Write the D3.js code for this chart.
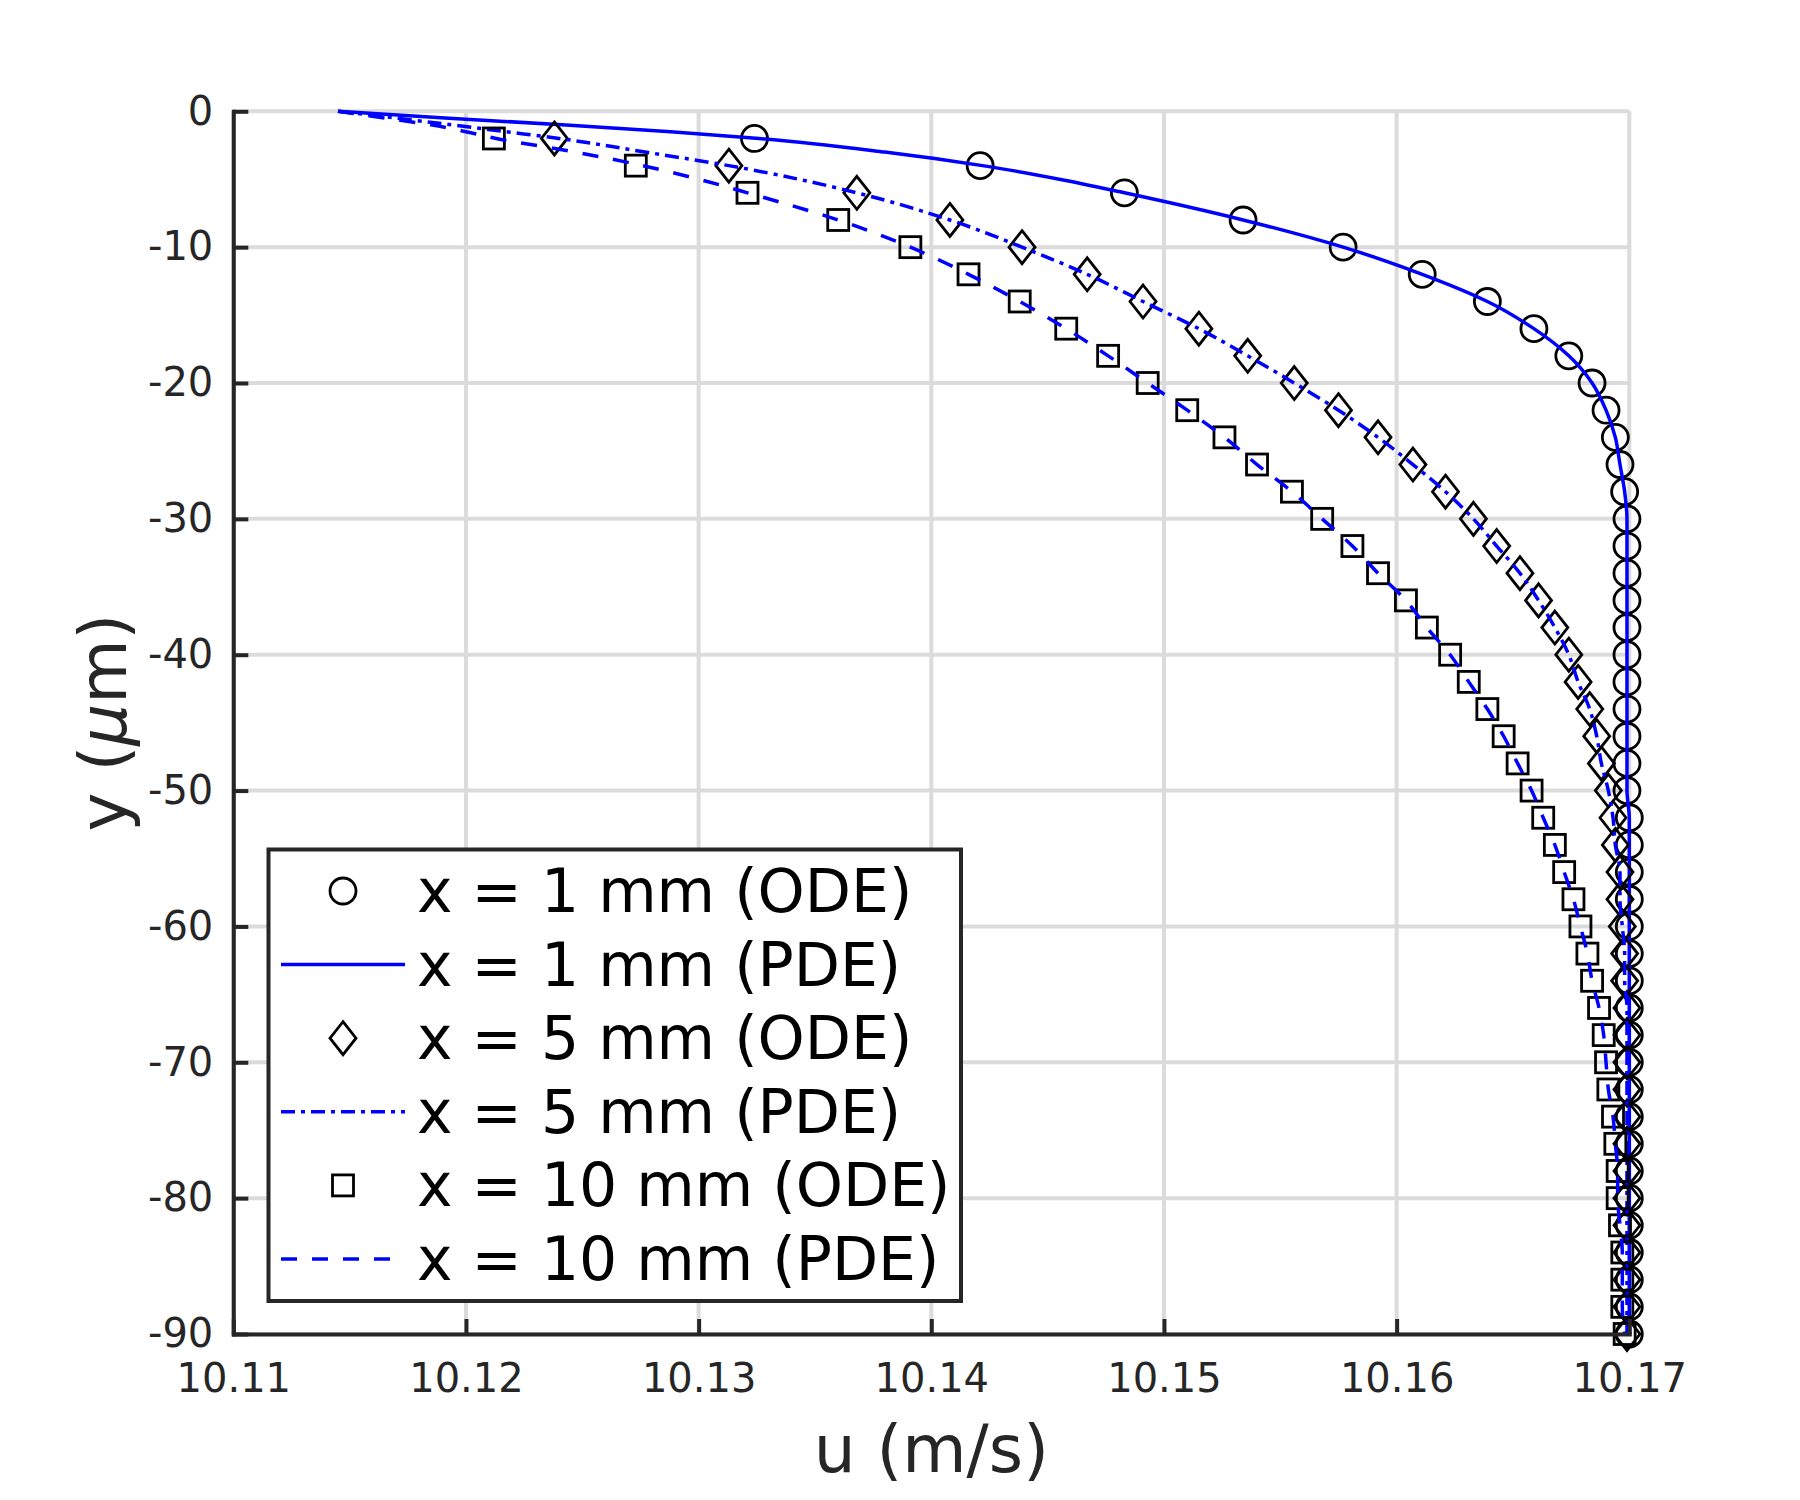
<!DOCTYPE html>
<html>
<head>
<meta charset="utf-8">
<script src="https://cdn.jsdelivr.net/npm/d3@7"></script>
<style>
  body { margin: 0; background: #fff; }
  svg text { font-family: "DejaVu Sans", sans-serif; }
</style>
</head>
<body>
<div id="chart"></div>
<script>
// depth grid of the ODE solution (um)
var yOde = [-2, -4, -6, -8, -10, -12, -14, -16, -18, -20, -22, -24, -26, -28, -30,
  -32, -34, -36, -38, -40, -42, -44, -46, -48, -50, -52, -54, -56, -58, -60,
  -62, -64, -66, -68, -70, -72, -74, -76, -78, -80, -82, -84, -86, -88, -90];

// u (m/s) at x = 1, 5, 10 mm, ODE markers
var u1Ode = [10.1324, 10.1421, 10.1483, 10.1534, 10.1577, 10.1611, 10.1639, 10.1659, 10.1674, 10.1684,
  10.1690, 10.1694, 10.1696, 10.1698, 10.1699, 10.1699, 10.1699, 10.1699, 10.1699, 10.1699,
  10.1699, 10.1699, 10.1699, 10.1699, 10.1699, 10.1700, 10.1700, 10.1700, 10.1700, 10.1700,
  10.1700, 10.1700, 10.1700, 10.1700, 10.1700, 10.1700, 10.1700, 10.1700, 10.1700, 10.1700,
  10.1700, 10.1700, 10.1700, 10.1700, 10.1700];
var u5Ode = [10.1238, 10.1313, 10.1368, 10.1408, 10.1439, 10.1467, 10.1491, 10.1515, 10.1536, 10.1556,
  10.1575, 10.1592, 10.1607, 10.1621, 10.1633, 10.1643, 10.1653, 10.1661, 10.1668, 10.1674,
  10.1678, 10.1683, 10.1686, 10.1688, 10.1691, 10.1693, 10.1694, 10.1696, 10.1696, 10.1697,
  10.1698, 10.1698, 10.1699, 10.1699, 10.1699, 10.1699, 10.1699, 10.1699, 10.1699, 10.1699,
  10.1699, 10.1699, 10.1699, 10.1699, 10.1699];
var u10Ode = [10.1212, 10.1273, 10.1321, 10.1360, 10.1391, 10.1416, 10.1438, 10.1458, 10.1476, 10.1493,
  10.1510, 10.1526, 10.1540, 10.1555, 10.1568, 10.1581, 10.1592, 10.1604, 10.1613, 10.1623,
  10.1631, 10.1639, 10.1646, 10.1652, 10.1658, 10.1663, 10.1668, 10.1672, 10.1676, 10.1679,
  10.1682, 10.1684, 10.1687, 10.1689, 10.1690, 10.1691, 10.1693, 10.1694, 10.1695, 10.1695,
  10.1696, 10.1697, 10.1697, 10.1697, 10.1698];

// PDE curves, read on a finer grid near the surface
var yPde = [0, -0.5, -1, -1.5, -2, -3, -4, -5, -6, -8, -10, -12, -14, -16, -18, -20, -22, -24, -26, -28,
  -30, -32, -34, -36, -38, -40, -42, -44, -46, -48, -50, -52, -54, -56, -58, -60,
  -62, -64, -66, -68, -70, -72, -74, -76, -78, -80, -82, -84, -86, -88, -90];
var u1Pde = [10.1145, 10.1191, 10.1243, 10.1288, 10.1326, 10.1380, 10.1422, 10.1455, 10.1483,
  10.1534, 10.1577, 10.1611, 10.1639, 10.1659, 10.1674, 10.1684, 10.1690, 10.1694, 10.1696, 10.1698,
  10.1699, 10.1699, 10.1699, 10.1699, 10.1699, 10.1699, 10.1699, 10.1699, 10.1699, 10.1699, 10.1699,
  10.1700, 10.1700, 10.1700, 10.1700, 10.1700, 10.1700, 10.1700, 10.1700, 10.1700, 10.1700, 10.1700,
  10.1700, 10.1700, 10.1700, 10.1700, 10.1700, 10.1700, 10.1700, 10.1700, 10.1700];
var u5Pde = [10.1145, 10.1170, 10.1194, 10.1217, 10.1240, 10.1277, 10.1313, 10.1343, 10.1368,
  10.1408, 10.1439, 10.1467, 10.1491, 10.1515, 10.1536, 10.1556, 10.1575, 10.1592, 10.1607, 10.1621,
  10.1633, 10.1643, 10.1653, 10.1661, 10.1668, 10.1674, 10.1678, 10.1683, 10.1686, 10.1688, 10.1691,
  10.1693, 10.1694, 10.1696, 10.1696, 10.1697, 10.1698, 10.1698, 10.1699, 10.1699, 10.1699, 10.1699,
  10.1699, 10.1699, 10.1699, 10.1699, 10.1699, 10.1699, 10.1699, 10.1699, 10.1699];
var u10Pde = [10.1145, 10.1165, 10.1185, 10.1200, 10.1213, 10.1247, 10.1276, 10.1300, 10.1321,
  10.1360, 10.1391, 10.1416, 10.1438, 10.1458, 10.1476, 10.1493, 10.1510, 10.1526, 10.1540, 10.1555,
  10.1568, 10.1581, 10.1592, 10.1604, 10.1613, 10.1623, 10.1631, 10.1639, 10.1646, 10.1652, 10.1658,
  10.1663, 10.1668, 10.1672, 10.1676, 10.1679, 10.1682, 10.1684, 10.1687, 10.1689, 10.1690, 10.1691,
  10.1693, 10.1694, 10.1695, 10.1695, 10.1696, 10.1697, 10.1697, 10.1697, 10.1698];

var xTicks = [10.11, 10.12, 10.13, 10.14, 10.15, 10.16, 10.17];
var yTicks = [-90, -80, -70, -60, -50, -40, -30, -20, -10, 0];
var legendLabels = ["x = 1 mm (ODE)", "x = 1 mm (PDE)", "x = 5 mm (ODE)",
  "x = 5 mm (PDE)", "x = 10 mm (ODE)", "x = 10 mm (PDE)"];

// set the dimensions and margins of the graph
var margin = {top: 111.3, right: 170.7, bottom: 166, left: 233.3},
  width = 1800 - margin.left - margin.right,
  height = 1500 - margin.top - margin.bottom;

var axisColor = "#262626";
var gridColor = "#dbdbdb";
var blue = "#0000ff";
var lineWidth = 3.5;
var markStroke = 2.8;
var dashed = "16,15";
var dashDot = "14,6,4,6";

var svg = d3.select("#chart")
  .append("svg")
    .attr("width", 1800)
    .attr("height", 1500);

var g = svg.append("g")
  .attr("transform", "translate(" + margin.left + "," + margin.top + ")");

var x = d3.scaleLinear().domain([10.11, 10.17]).range([0, width]);
var y = d3.scaleLinear().domain([-90, 0]).range([height, 0]);

// grid
g.selectAll(".vgrid")
  .data(xTicks)
  .enter()
  .append("line")
    .attr("x1", function(d) { return x(d); })
    .attr("x2", function(d) { return x(d); })
    .attr("y1", 0)
    .attr("y2", height)
    .style("stroke", gridColor)
    .style("stroke-width", 4);

g.selectAll(".hgrid")
  .data(yTicks)
  .enter()
  .append("line")
    .attr("x1", 0)
    .attr("x2", width)
    .attr("y1", function(d) { return y(d); })
    .attr("y2", function(d) { return y(d); })
    .style("stroke", gridColor)
    .style("stroke-width", 4);

// markers
function drawCircles(us, ys) {
  g.append("g").selectAll("circle")
    .data(us)
    .enter()
    .append("circle")
      .attr("cx", function(d) { return x(d); })
      .attr("cy", function(d, i) { return y(ys[i]); })
      .attr("r", 13)
      .style("fill", "none")
      .style("stroke", "#000")
      .style("stroke-width", markStroke);
}

function diamondPath(cx, cy) {
  return "M" + cx + "," + (cy - 16.5) + "L" + (cx + 13) + "," + cy +
    "L" + cx + "," + (cy + 16.5) + "L" + (cx - 13) + "," + cy + "Z";
}

function drawDiamonds(us, ys) {
  g.append("g").selectAll("path")
    .data(us)
    .enter()
    .append("path")
      .attr("d", function(d, i) { return diamondPath(x(d), y(ys[i])); })
      .style("fill", "none")
      .style("stroke", "#000")
      .style("stroke-width", markStroke);
}

function drawSquares(us, ys) {
  g.append("g").selectAll("rect")
    .data(us)
    .enter()
    .append("rect")
      .attr("x", function(d) { return x(d) - 10.5; })
      .attr("y", function(d, i) { return y(ys[i]) - 10.5; })
      .attr("width", 21)
      .attr("height", 21)
      .style("fill", "none")
      .style("stroke", "#000")
      .style("stroke-width", markStroke);
}

var line = d3.line()
  .x(function(d) { return x(d[0]); })
  .y(function(d) { return y(d[1]); })
  .curve(d3.curveMonotoneY);

function drawLine(us, ys, dash) {
  g.append("path")
    .datum(us.map(function(d, i) { return [d, ys[i]]; }))
    .attr("d", line)
    .style("fill", "none")
    .style("stroke", blue)
    .style("stroke-width", lineWidth)
    .style("stroke-dasharray", dash);
}

drawCircles(u1Ode, yOde);
drawLine(u1Pde, yPde, null);
drawDiamonds(u5Ode, yOde);
drawLine(u5Pde, yPde, dashDot);
drawSquares(u10Ode, yOde);
drawLine(u10Pde, yPde, dashed);

// axes
var xAxis = g.append("g")
  .attr("transform", "translate(0," + height + ")")
  .call(d3.axisBottom(x)
    .tickValues(xTicks)
    .tickFormat(d3.format(".2f"))
    .tickSizeInner(-15)
    .tickSizeOuter(0)
    .tickPadding(30));

var yAxis = g.append("g")
  .call(d3.axisLeft(y)
    .tickValues(yTicks)
    .tickFormat(function(d) { return d === 0 ? "0" : "-" + Math.abs(d); })
    .tickSizeInner(-15)
    .tickSizeOuter(0)
    .tickPadding(20));

[xAxis, yAxis].forEach(function(a) {
  a.select(".domain")
    .style("stroke", axisColor)
    .style("stroke-width", 4)
    .style("stroke-linecap", "square");
  a.selectAll(".tick line")
    .style("stroke", axisColor)
    .style("stroke-width", 4);
  a.selectAll(".tick text")
    .style("fill", axisColor)
    .style("font-size", "40px")
    .style("font-family", "DejaVu Sans");
});

// axis labels
svg.append("text")
  .attr("x", margin.left + width / 2)
  .attr("y", 1471.7)
  .attr("text-anchor", "middle")
  .style("font-size", "66px")
  .style("fill", axisColor)
  .text("u (m/s)");

var yLabel = svg.append("text")
  .attr("transform", "translate(126," + (margin.top + height / 2) + ") rotate(-90)")
  .attr("text-anchor", "middle")
  .style("font-size", "66px")
  .style("fill", axisColor);
yLabel.append("tspan").text("y (");
yLabel.append("tspan").style("font-style", "italic").text("\u03bc");
yLabel.append("tspan").text("m)");

// legend
var legend = svg.append("g");
legend.append("rect")
  .attr("x", 268.5)
  .attr("y", 849.5)
  .attr("width", 692.5)
  .attr("height", 451.5)
  .style("fill", "#fff")
  .style("stroke", axisColor)
  .style("stroke-width", 4);

var rowStep = 73.6;
var rowTop = 891;
var sampleX0 = 281, sampleX1 = 405, markX = 343;

legendLabels.forEach(function(label, i) {
  var cy = rowTop + i * rowStep;
  if (i === 0) {
    legend.append("circle").attr("cx", markX).attr("cy", cy).attr("r", 13)
      .style("fill", "none").style("stroke", "#000").style("stroke-width", markStroke);
  } else if (i === 2) {
    legend.append("path").attr("d", diamondPath(markX, cy))
      .style("fill", "none").style("stroke", "#000").style("stroke-width", markStroke);
  } else if (i === 4) {
    legend.append("rect").attr("x", markX - 10.5).attr("y", cy - 10.5)
      .attr("width", 21).attr("height", 21)
      .style("fill", "none").style("stroke", "#000").style("stroke-width", markStroke);
  } else {
    legend.append("line")
      .attr("x1", sampleX0).attr("x2", sampleX1)
      .attr("y1", cy).attr("y2", cy)
      .style("stroke", blue)
      .style("stroke-width", lineWidth)
      .style("stroke-dasharray", i === 1 ? null : (i === 3 ? dashDot : dashed));
  }
  legend.append("text")
    .attr("x", 417)
    .attr("y", cy + 21)
    .style("font-size", "60px")
    .style("fill", "#000")
    .text(label);
});
</script>
</body>
</html>
